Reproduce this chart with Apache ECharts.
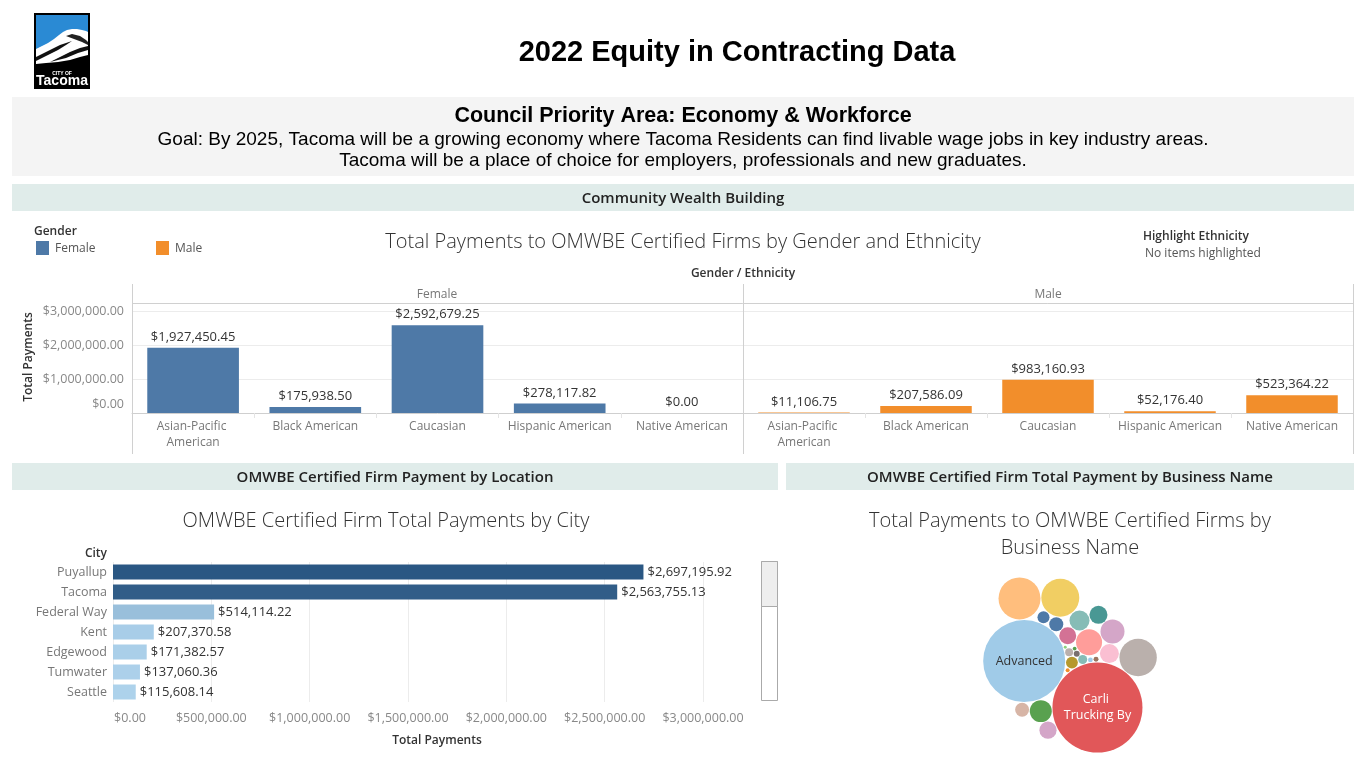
<!DOCTYPE html>
<html><head><meta charset="utf-8">
<script src="https://cdn.jsdelivr.net/npm/echarts@6/dist/echarts.min.js"></script>
<style>html,body{margin:0;padding:0;background:#fff}#c{width:1366px;height:768px}</style>
</head><body><div id="c"></div><script>
// ---------------- DATA ----------------
const ethnicities = ['Asian-Pacific American', 'Black American', 'Caucasian', 'Hispanic American', 'Native American'];
const femalePayments = [1927450.45, 175938.50, 2592679.25, 278117.82, 0.00];
const malePayments = [11106.75, 207586.09, 983160.93, 52176.40, 523364.22];
const genderTicks = [0, 1000000, 2000000, 3000000];

const cities = ['Puyallup', 'Tacoma', 'Federal Way', 'Kent', 'Edgewood', 'Tumwater', 'Seattle'];
const cityPayments = [2697195.92, 2563755.13, 514114.22, 207370.58, 171382.57, 137060.36, 115608.14];
const cityTicks = [0, 500000, 1000000, 1500000, 2000000, 2500000, 3000000];

const businessNames = ['Carli Trucking By', 'Advanced', 'Firm 3', 'Firm 4', 'Firm 5', 'Firm 6', 'Firm 7', 'Firm 8',
  'Firm 9', 'Firm 10', 'Firm 11', 'Firm 12', 'Firm 13', 'Firm 14', 'Firm 15', 'Firm 16', 'Firm 17', 'Firm 18',
  'Firm 19', 'Firm 20', 'Firm 21', 'Firm 22', 'Firm 23', 'Firm 24', 'Firm 25'];
const businessPayments = [2300000, 1910000, 500000, 410000, 397000, 192000, 164000, 137000,
  114000, 102000, 92000, 84000, 82000, 56000, 55000, 41000, 40000, 23000,
  18000, 10000, 7000, 6500, 4500, 4000, 2500];
const bubbleLabels = {'Carli Trucking By': 'Carli Trucking By', 'Advanced': 'Advanced'};

// ---------------- STYLE / LAYOUT ----------------
const bubblePalette = ['#e15759', '#a0cbe8', '#ffbe7d', '#f1ce63', '#bab0ac', '#ff9d9a', '#d4a6c8', '#59a14f',
  '#86bcb6', '#fabfd2', '#499894', '#d4a6c8', '#d37295', '#4e79a7', '#d7b5a6', '#4e79a7', '#b6992d', '#86bcb6',
  '#bab0ac', '#79706e', '#9d7660', '#a0cbe8', '#f28e2b', '#59a14f', '#8cd17d'];
const placementOrder = [0, 1, 16, 17, 18, 19, 22, 23, 5, 12, 9, 8, 13, 21, 6, 7, 4, 3, 10, 15, 14, 20, 11, 2, 24];
const TF = "'Open Sans', 'Noto Sans', sans-serif";
const AF = "'Liberation Sans', Arial, sans-serif";

const money = v => '$' + Number(v).toLocaleString('en-US', {minimumFractionDigits: 2, maximumFractionDigits: 2});

// ------------- bubble packing (computed from values) -------------
function packBubbles(values, scale, angle, bias, gap, order) {
  const rs = values.map(v => scale * Math.sqrt(v));
  const pos = new Array(rs.length);
  const placed = [];
  const a = order[0], b = order[1];
  pos[a] = {x: 0, y: 0, r: rs[a]}; placed.push(pos[a]);
  const ux = Math.cos(angle), uy = Math.sin(angle);
  const d0 = rs[a] + rs[b] + gap;
  pos[b] = {x: ux * d0, y: uy * d0, r: rs[b]}; placed.push(pos[b]);
  const tx = ux * rs[a] + (-uy) * bias, ty = uy * rs[a] + ux * bias;
  for (let k = 2; k < order.length; k++) {
    const i = order[k], r = rs[i];
    let best = null, bd = Infinity;
    for (let p = 0; p < placed.length; p++) {
      for (let q = p + 1; q < placed.length; q++) {
        const A = placed[p], B = placed[q];
        const r1 = A.r + r + gap, r2 = B.r + r + gap;
        const dx = B.x - A.x, dy = B.y - A.y, D = Math.hypot(dx, dy);
        if (D > r1 + r2 || D < Math.abs(r1 - r2) || D === 0) continue;
        const l = (r1 * r1 - r2 * r2 + D * D) / (2 * D);
        const h = Math.sqrt(Math.max(0, r1 * r1 - l * l));
        const mx = A.x + dx * l / D, my = A.y + dy * l / D;
        const cands = [[mx - dy * h / D, my + dx * h / D], [mx + dy * h / D, my - dx * h / D]];
        for (const [cx, cy] of cands) {
          let ok = true;
          for (const C of placed) {
            if (Math.hypot(C.x - cx, C.y - cy) < C.r + r + gap - 1e-6) { ok = false; break; }
          }
          if (!ok) continue;
          const dist = Math.hypot(cx - tx, cy - ty);
          if (dist < bd) { bd = dist; best = {x: cx, y: cy, r: r}; }
        }
      }
    }
    pos[i] = best; placed.push(best);
  }
  let x0 = Infinity, x1 = -Infinity, y0 = Infinity, y1 = -Infinity;
  pos.forEach(c => { x0 = Math.min(x0, c.x - c.r); x1 = Math.max(x1, c.x + c.r); y0 = Math.min(y0, c.y - c.r); y1 = Math.max(y1, c.y + c.r); });
  const cx = (x0 + x1) / 2, cy = (y0 + y1) / 2;
  return pos.map(c => ({x: c.x - cx, y: c.y - cy, r: c.r}));
}
const packed = packBubbles(businessPayments, 45 / Math.sqrt(2300000), Math.atan2(-47, -74), 20, 0.8, placementOrder);

// ------------- graphics (header, banners, frames) -------------
const G = [];
const txt = (text, x, y, font, fill, align, extra) => Object.assign({type: 'text', x: x, y: y, z: 10,
  style: {text: text, font: font, fill: fill, textAlign: align || 'center', textVerticalAlign: 'middle'}}, extra || {});
const rect = (x, y, w, h, fill, stroke, z) => ({type: 'rect', z: z || 0, shape: {x: x, y: y, width: w, height: h},
  style: {fill: fill, stroke: stroke || null, lineWidth: 1}});
const line = (x1, y1, x2, y2, stroke, z) => ({type: 'line', z: z || 5, shape: {x1: x1, y1: y1, x2: x2, y2: y2},
  style: {stroke: stroke, lineWidth: 1}});
const poly = (pts, fill, z) => ({type: 'polygon', z: z, shape: {points: pts}, style: {fill: fill}});

// logo
G.push(rect(34, 13, 56, 76, '#000'));
G.push(rect(36, 15, 52, 50, '#2a8ad4', null, 1));
G.push(poly([[36, 49], [42, 46], [48, 43], [54, 39], [59, 35], [63, 32], [67, 30], [72, 29], [77, 29], [82, 30], [86, 31], [88, 32], [88, 64], [36, 64]], '#fff', 2));
G.push(poly([[36, 57], [44, 53], [52, 49], [60, 45], [66, 43], [72, 41], [66, 45], [58, 50], [48, 55], [40, 59], [36, 61]], '#111', 3));
G.push(poly([[66, 36], [72, 34], [80, 36], [86, 40], [88, 42], [88, 45], [82, 42], [74, 39]], '#222', 3));
G.push(poly([[50, 62], [60, 57], [70, 52], [80, 48], [88, 46], [88, 50], [78, 53], [66, 58]], '#111', 3));
G.push(poly([[36, 64], [46, 63], [58, 62], [70, 60], [80, 57], [88, 55], [88, 87], [36, 87]], '#000', 4));
G.push(txt('CITY OF', 62, 73.5, 'bold 5px ' + AF, '#fff'));
G.push(txt('Tacoma', 62, 81, "bold 14px 'Liberation Sans Narrow', " + AF, '#fff'));

// title
G.push(txt('2022 Equity in Contracting Data', 737, 53, 'bold 29px ' + AF, '#000'));

// council box
G.push(rect(12, 97, 1342, 79, '#f4f4f4'));
G.push(txt('Council Priority Area: Economy & Workforce', 683, 116, 'bold 21.5px ' + AF, '#000'));
G.push(txt('Goal: By 2025, Tacoma will be a growing economy where Tacoma Residents can find livable wage jobs in key industry areas.', 683, 140, '19px ' + AF, '#000'));
G.push(txt('Tacoma will be a place of choice for employers, professionals and new graduates.', 683, 161, '19px ' + AF, '#000'));

// section banners
G.push(rect(12, 184, 1342, 27, '#e0ecea'));
G.push(txt('Community Wealth Building', 683, 199, '600 15px ' + TF, '#222'));
G.push(rect(12, 463, 766, 27, '#e0ecea'));
G.push(txt('OMWBE Certified Firm Payment by Location', 395, 478, '600 15px ' + TF, '#222'));
G.push(rect(786, 463, 568, 27, '#e0ecea'));
G.push(txt('OMWBE Certified Firm Total Payment by Business Name', 1070, 478, '600 15px ' + TF, '#222'));

// gender chart: legend / titles
G.push(txt('Gender', 34, 231.5, '600 12px ' + TF, '#333', 'left'));
G.push(rect(36, 241, 13, 14, '#4e79a7'));
G.push(txt('Female', 55, 249, '12px ' + TF, '#555', 'left'));
G.push(rect(156, 241, 13, 14, '#f28e2b'));
G.push(txt('Male', 175, 249, '12px ' + TF, '#555', 'left'));
G.push(txt('Total Payments to OMWBE Certified Firms by Gender and Ethnicity', 683, 242, '300 20px ' + TF, '#333'));
G.push(txt('Highlight Ethnicity', 1143, 237, '600 12px ' + TF, '#333', 'left'));
G.push(txt('No items highlighted', 1145, 254, '12px ' + TF, '#555', 'left'));
G.push(txt('Gender / Ethnicity', 743, 274, '600 12px ' + TF, '#333'));
G.push(txt('Female', 437, 295, '12px ' + TF, '#777'));
G.push(txt('Male', 1048, 295, '12px ' + TF, '#777'));
G.push(line(132.5, 284, 132.5, 454, '#d0d0d0'));
G.push(line(743.5, 284, 743.5, 454, '#d0d0d0'));
G.push(line(1353.5, 284, 1353.5, 454, '#d0d0d0'));
G.push(line(132, 303.5, 1353, 303.5, '#d0d0d0'));
G.push(txt('Total Payments', 29, 357, '600 12px ' + TF, '#333', 'center', {rotation: Math.PI / 2}));

// city chart
G.push(txt('OMWBE Certified Firm Total Payments by City', 386, 521, '300 20px ' + TF, '#333'));
G.push(txt('City', 107, 554, '600 12px ' + TF, '#333', 'right'));
G.push(rect(761.5, 561.5, 16, 139, '#fff', '#aaa'));
G.push(rect(761.5, 561.5, 16, 45, '#eee', '#aaa', 1));

// bubble chart
G.push(txt('Total Payments to OMWBE Certified Firms by', 1070, 521, '300 20px ' + TF, '#333'));
G.push(txt('Business Name', 1070, 548, '300 20px ' + TF, '#333'));

// ------------- chart -------------
const chart = echarts.init(document.getElementById('c'), null, {renderer: 'canvas'});
const catAxis = (gi) => ({
  type: 'category', gridIndex: gi, data: ethnicities,
  axisLine: {lineStyle: {color: '#cfcfcf'}},
  axisTick: {show: true, length: 5, lineStyle: {color: '#e4e4e4'}},
  axisLabel: {color: '#777', fontSize: 12, fontFamily: TF, interval: 0, width: 112, overflow: 'break', lineHeight: 16, margin: 6}
});
const valAxis = (gi, showLabels) => ({
  type: 'value', gridIndex: gi, min: 0, max: 3250000, interval: 1000000,
  axisLine: {show: false}, axisTick: {show: false},
  splitLine: {lineStyle: {color: '#ececec'}},
  axisLabel: {show: showLabels, showMaxLabel: false, color: '#888', fontSize: 12.5, fontFamily: TF, margin: 8,
    formatter: v => genderTicks.indexOf(v) < 0 ? '' : (v === 0 ? '{z|' + money(v) + '}' : money(v)),
    rich: {z: {color: '#888', fontSize: 12.5, fontFamily: TF, padding: [0, 0, 18, 0]}}}
});
const barLabel = {show: true, position: 'top', distance: 4, color: '#333', fontSize: 13, fontFamily: TF, formatter: p => money(p.value)};

chart.setOption({
  animation: false,
  textStyle: {fontFamily: TF},
  graphic: G,
  grid: [
    {left: 132, top: 303, width: 611, height: 110},
    {left: 743, top: 303, width: 610, height: 110},
    {left: 113, top: 562, width: 590, height: 140},
    {left: 900, top: 565, width: 340, height: 200, show: false}
  ],
  xAxis: [
    catAxis(0), catAxis(1),
    {type: 'value', gridIndex: 2, min: 0, max: 3000000, interval: 500000,
      axisLine: {show: false}, axisTick: {show: false},
      splitLine: {lineStyle: {color: '#ececec'}},
      axisLabel: {color: '#888', fontSize: 12.5, fontFamily: TF, margin: 10,
        formatter: v => cityTicks.indexOf(v) < 0 ? '' : (v === 0 ? '{z|' + money(v) + '}' : money(v)),
        rich: {z: {color: '#888', fontSize: 12.5, fontFamily: TF, padding: [0, 0, 0, 34]}}},
      name: 'Total Payments', nameLocation: 'middle', nameGap: 33,
      nameTextStyle: {color: '#333', fontSize: 12, fontWeight: 600, fontFamily: TF, padding: [0, 0, 0, 58]}},
    {type: 'value', gridIndex: 3, min: -170, max: 170, show: false}
  ],
  yAxis: [
    valAxis(0, true), valAxis(1, false),
    {type: 'category', gridIndex: 2, data: cities, inverse: true,
      axisLine: {show: false}, axisTick: {show: false},
      axisLabel: {color: '#777', fontSize: 12.5, fontFamily: TF, margin: 6}},
    {type: 'value', gridIndex: 3, min: -100, max: 100, inverse: true, show: false}
  ],
  visualMap: {show: false, type: 'continuous', seriesIndex: 2, dimension: 0, min: 0, max: 2697195.92,
    inRange: {color: ['#b3d7f0', '#2a5783']}},
  series: [
    {type: 'bar', name: 'Female', xAxisIndex: 0, yAxisIndex: 0, data: femalePayments, barWidth: '75%',
      itemStyle: {color: '#4e79a7'}, label: barLabel},
    {type: 'bar', name: 'Male', xAxisIndex: 1, yAxisIndex: 1, data: malePayments, barWidth: '75%',
      itemStyle: {color: '#f28e2b'}, label: barLabel},
    {type: 'bar', name: 'City', xAxisIndex: 2, yAxisIndex: 2, barWidth: 15,
      data: cityPayments.map((v, i) => ({value: [v, cities[i]]})),
      encode: {x: 0, y: 1},
      label: {show: true, position: 'right', distance: 4, color: '#333', fontSize: 13, fontFamily: TF,
        formatter: p => money(p.value[0])}},
    {type: 'scatter', name: 'Business', xAxisIndex: 3, yAxisIndex: 3,
      data: businessNames.map((n, i) => ({
        name: n, value: [packed[i].x, packed[i].y, businessPayments[i]],
        symbolSize: packed[i].r * 2,
        itemStyle: {color: bubblePalette[i], opacity: 1},
        label: bubbleLabels[n] ? {show: true, position: 'inside', formatter: bubbleLabels[n],
          color: i === 0 ? '#fff' : '#333', fontSize: 12.5, fontFamily: TF, width: packed[i].r * 1.6, overflow: 'break', lineHeight: 16} : {show: false}
      }))}
  ]
});
</script></body></html>
